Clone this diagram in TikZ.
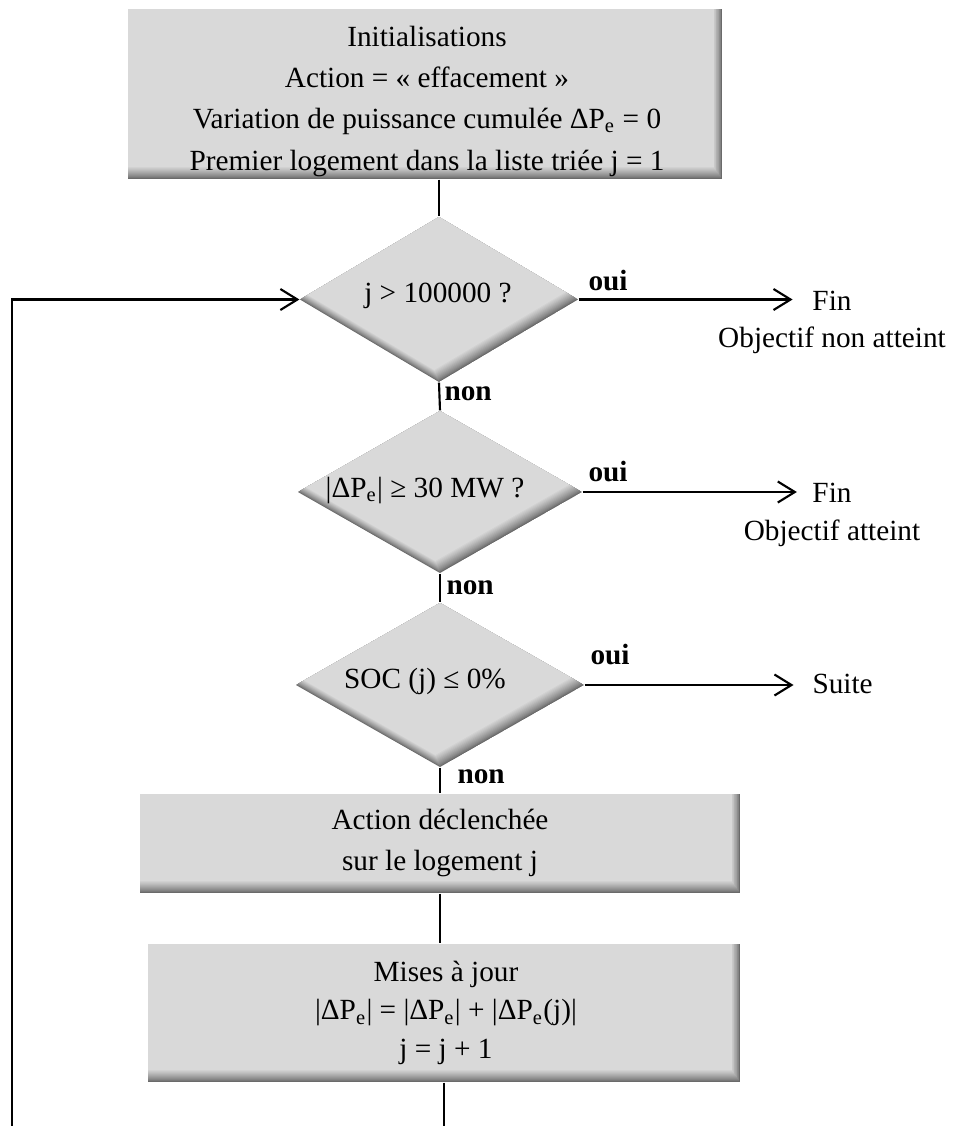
\documentclass[tikz,border=0pt]{standalone}
\usepackage{fontspec}
\setmainfont{Liberation Serif}
\usetikzlibrary{shapes.geometric,arrows.meta,calc}
\definecolor{boxfill}{HTML}{D9D9D9}
\definecolor{shadedark}{HTML}{6A6A6A}
% bevelled rectangle: x1 y1 x2 y2 (px)
\newcommand{\bevelrect}[4]{%
  \foreach \k in {0,...,12}{%
    \pgfmathtruncatemacro\p{100*(\k/12)^0.8}%
    \fill[boxfill!\p!shadedark] (#1,#2) rectangle ({#3-0.7*\k},{#4-\k});
  }}
% bevelled diamond: cx cy hw hh (px)
\newcommand{\beveldiamond}[4]{%
  \begin{scope}
    \clip (#1,{#2-#4}) -- ({#1+#3},#2) -- (#1,{#2+#4}) -- ({#1-#3},#2) -- cycle;
    \foreach \k in {0,...,12}{%
      \pgfmathtruncatemacro\p{100*(\k/12)^0.8}%
      \fill[boxfill!\p!shadedark]
        ({#1-0.4*\k},{#2-#4-\k}) -- ({#1+#3-0.4*\k},{#2-\k}) --
        ({#1-0.4*\k},{#2+#4-\k}) -- ({#1-#3-0.4*\k},{#2-\k}) -- cycle;
    }
  \end{scope}}
\tikzset{
  every node/.style={font=\fontsize{10.3}{12.4}\selectfont},
  boxnode/.style={rectangle, inner sep=0pt},
  dianode/.style={diamond, inner sep=0pt},
  txt/.style={inner sep=0pt, align=center, anchor=base},
  conn/.style={line width=0.75pt, black},
  arr/.style={conn, -{Straight Barb[length=6pt,width=7.4pt,line width=0.75pt]}},
  lab/.style={font=\fontsize{10.3}{12.4}\selectfont\bfseries, inner sep=0pt, anchor=base west},
}
\begin{document}
\begin{tikzpicture}[x=0.352pt,y=-0.352pt]
\useasboundingbox (0,0) rectangle (954,1126);
% shaded shapes
\bevelrect{128}{9}{722}{179}
\beveldiamond{439}{299.5}{139}{82.5}
\beveldiamond{440}{492}{142}{81}
\beveldiamond{440}{685}{144}{82}
\bevelrect{140}{794}{740}{893}
\bevelrect{148}{944}{740}{1082}
% shape nodes
\node[boxnode, minimum width=209.09pt, minimum height=59.84pt] (b1) at (425,94) {};
\node[dianode, minimum width=97.86pt, minimum height=58.08pt] (d1) at (439,299.5) {};
\node[dianode, minimum width=99.97pt, minimum height=57.02pt] (d2) at (440,492) {};
\node[dianode, minimum width=101.38pt, minimum height=57.73pt] (d3) at (440,685) {};
\node[boxnode, minimum width=211.2pt, minimum height=34.85pt] (b3) at (440,843.5) {};
\node[boxnode, minimum width=208.38pt, minimum height=48.58pt] (b4) at (444,1013) {};
% texts (anchor base = baseline of the last line)
\node[txt, font=\fontsize{10.3}{14.55}\selectfont] (b1t) at (427,170)
  {Initialisations\\Action = « effacement »\\Variation de puissance cumulée ΔP\textsubscript{e} = 0\\Premier logement dans la liste triée j = 1};
\node[txt] (d1t) at (438,302) {j > 100000 ?};
\node[txt] (d2t) at (425,497) {|ΔP\textsubscript{e}| ≥ 30 MW ?};
\node[txt] (d3t) at (425,688) {SOC (j) ≤ 0\%};
\node[txt, font=\fontsize{10.3}{14.1}\selectfont] (b3t) at (440,870)
  {Action déclenchée\\sur le logement j};
\node[txt, font=\fontsize{10.3}{13.4}\selectfont] (b4t) at (446,1058)
  {Mises à jour\\|ΔP\textsubscript{e}| = |ΔP\textsubscript{e}| + |ΔP\textsubscript{e}(j)|\\j = j + 1};
\node[txt] (fin1) at (832,310) {Fin};
\node[txt] (obj1) at (832,347) {Objectif non atteint};
\node[txt] (fin2) at (832,502) {Fin};
\node[txt] (obj2) at (832,540) {Objectif atteint};
\node[txt, anchor=base west] (suite) at (812,693) {Suite};
\node[lab] (oui1) at (588,290) {oui};
\node[lab] (oui2) at (588,481) {oui};
\node[lab] (oui3) at (590,664) {oui};
\node[lab] (non1) at (444,400) {non};
\node[lab] (non2) at (446,594) {non};
\node[lab] (non3) at (457,783) {non};
\coordinate (loopstart) at (12,1126);
\coordinate (bot) at (444,1126);
% connectors
\draw[conn] (d1.north |- b1.south) -- (d1.north);
\draw[conn] (d1.south) -- (d2.north);
\draw[conn] (d2.south) -- (d3.north);
\draw[conn] (d3.south) -- (d3.south |- b3.north);
\draw[conn] (b3.south) -- (b3.south |- b4.north);
\draw[conn] (b4.south) -- (bot);
\draw[arr] (loopstart) |- (d1.west);
\draw[arr, shorten >=6.8pt] (d1.east) -- (d1.east -| fin1.west);
\draw[arr, shorten >=5.3pt] (d2.east) -- (d2.east -| fin2.west);
\draw[arr, shorten >=6.5pt] (d3.east) -- (d3.east -| suite.west);
\end{tikzpicture}
\end{document}
